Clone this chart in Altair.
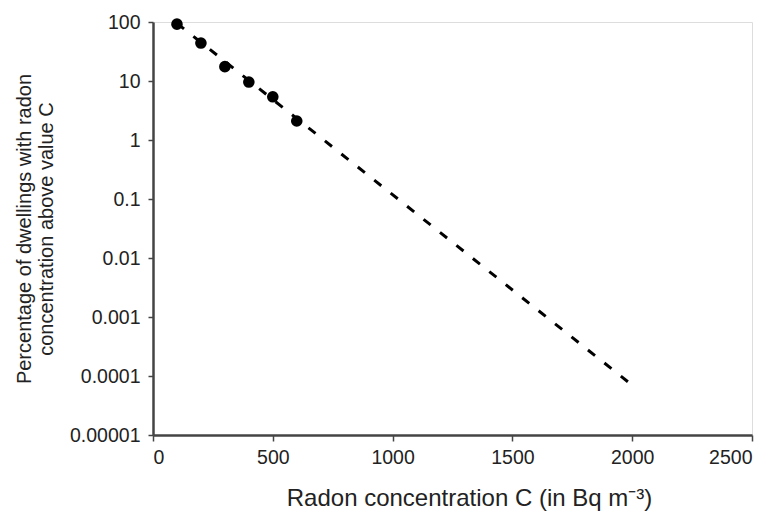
import altair as alt
import pandas as pd

# Observed points
conc = [100, 200, 300, 400, 500, 600]
pct = [92, 44, 17.5, 9.6, 5.4, 2.1]

# Fitted dashed line (end points)
fit_x = [100, 2000]
fit_y = [95, 0.00007]

y_ticks = [0.00001, 0.0001, 0.001, 0.01, 0.1, 1, 10, 100]
x_ticks = [0, 500, 1000, 1500, 2000, 2500]

pts = pd.DataFrame({"C": conc, "P": pct})
fit = pd.DataFrame({"C": fit_x, "P": fit_y})

FONT = "Liberation Sans"

x_enc = alt.X(
    "C:Q",
    scale=alt.Scale(domain=[0, 2500], nice=False, zero=False),
    axis=alt.Axis(
        values=x_ticks,
        format="d",
        title="Radon concentration C (in Bq m\u207b\u00b3)",
        grid=False,
        domainColor="#444",
        domainWidth=2.5,
        tickColor="#444",
        tickWidth=1.5,
        tickSize=6,
        labelFontSize=19.5,
        labelColor="#222",
        labelFont=FONT,
        labelPadding=7,
        titleFont=FONT,
        titleFontSize=24,
        titleFontWeight="normal",
        titleColor="#222",
        titleX=316,
        titleY=70,
        titleBaseline="alphabetic",
    ),
)

y_enc = alt.Y(
    "P:Q",
    scale=alt.Scale(type="log", domain=[0.00001, 100], nice=False),
    axis=alt.Axis(
        values=y_ticks,
        format="~g",
        title=["Percentage of dwellings with radon", "concentration above value C"],
        grid=False,
        domainColor="#444",
        domainWidth=2.5,
        tickColor="#444",
        tickWidth=1.5,
        tickSize=5,
        labelFontSize=19.5,
        labelColor="#222",
        labelFont=FONT,
        labelPadding=8,
        titleFont=FONT,
        titleFontSize=20,
        titleFontWeight="normal",
        titleColor="#222",
        titlePadding=13,
        titleLineHeight=22,
    ),
)

line = alt.Chart(fit).mark_line(
    color="black", strokeWidth=3, strokeDash=[9, 12]
).encode(x=x_enc, y=y_enc)

points = alt.Chart(pts).mark_circle(
    color="black", size=135, opacity=1
).encode(x="C:Q", y="P:Q")

chart = (
    alt.layer(line, points)
    .properties(
        width=599,
        height=413,
        autosize=alt.AutoSizeParams(type="none"),
        padding={"left": 153, "top": 22, "right": 22, "bottom": 76},
    )
    .configure_view(stroke=None)
    .configure(background="white")
)

chart.save("out.html", embed_options={"renderer": "svg", "actions": False})
